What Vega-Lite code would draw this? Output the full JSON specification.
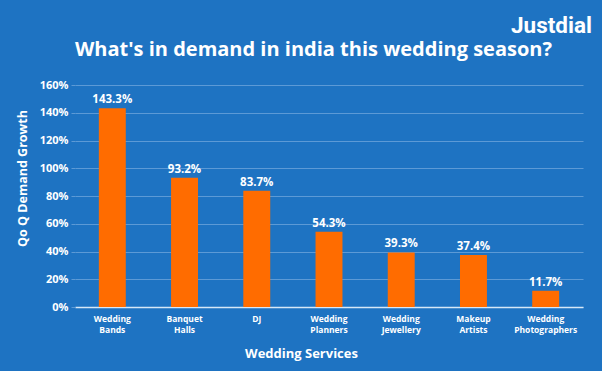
{
  "$schema": "https://vega.github.io/schema/vega-lite/v6.json",
  "width": 508,
  "height": 222,
  "autosize": {"type": "none"},
  "padding": {"left": 75, "top": 85, "right": 19, "bottom": 64},
  "background": "#1e73c2",
  "title": {
    "text": "Justdial",
    "anchor": "end",
    "frame": "group",
    "dx": 9,
    "offset": 2,
    "font": "Roboto",
    "fontSize": 22.5,
    "fontWeight": "bold",
    "color": "#ffffff"
  },
  "data": {
    "values": [
      {"service": "Wedding Bands", "growth": 1.433},
      {"service": "Banquet Halls", "growth": 0.932},
      {"service": "DJ", "growth": 0.837},
      {"service": "Wedding Planners", "growth": 0.543},
      {"service": "Wedding Jewellery", "growth": 0.393},
      {"service": "Makeup Artists", "growth": 0.374},
      {"service": "Wedding Photographers", "growth": 0.117}
    ]
  },
  "config": {
    "view": {"stroke": null},
    "font": "Open Sans"
  },
  "encoding": {
    "y": {
      "field": "growth",
      "type": "quantitative",
      "scale": {"domain": [0, 1.6], "nice": false},
      "axis": {
        "title": "Qo Q Demand Growth",
        "format": ".0%",
        "values": [0, 0.2, 0.4, 0.6, 0.8, 1.0, 1.2, 1.4, 1.6],
        "domain": false,
        "grid": true,
        "gridColor": "#5c9ad6",
        "gridWidth": 1,
        "tickColor": "#5c9ad6",
        "tickSize": 4,
        "labelPadding": 3,
        "labelColor": "#ffffff",
        "labelFont": "Open Sans",
        "labelFontSize": 11,
        "labelFontWeight": "bold",
        "titleColor": "#ffffff",
        "titleFont": "Open Sans",
        "titleFontSize": 12.5,
        "titleFontWeight": "bold",
        "titlePadding": 10,
        "titleY": 93,
        "titleAlign": "center"
      }
    }
  },
  "layer": [
    {
      "mark": {"type": "bar", "color": "#ff6c00"},
      "encoding": {
        "x": {
          "field": "service",
          "type": "nominal",
          "sort": null,
          "scale": {"paddingInner": 0.627, "paddingOuter": 0.33},
          "axis": {
            "title": "Wedding Services",
            "labelAngle": 0,
            "labelExpr": "split(datum.label, ' ')",
            "labelColor": "#ffffff",
            "labelFont": "Open Sans",
            "labelFontSize": 8.5,
            "labelFontWeight": "bold",
            "labelLineHeight": 11,
            "labelPadding": 7,
            "ticks": false,
            "domainColor": "#d6e8f7",
            "domainWidth": 1.5,
            "titleColor": "#ffffff",
            "titleFont": "Open Sans",
            "titleFontSize": 13,
            "titleFontWeight": "bold",
            "titlePadding": 14,
            "titleX": 226,
            "titleAlign": "center"
          }
        }
      }
    },
    {
      "mark": {"type": "text", "color": "#ffffff", "font": "Open Sans", "fontSize": 11.5, "fontWeight": "bold", "baseline": "bottom", "dy": -3},
      "encoding": {
        "x": {
          "field": "service",
          "type": "nominal",
          "sort": null,
          "axis": {
            "orient": "top",
            "title": "What's in demand in india this wedding season?",
            "labels": false,
            "ticks": false,
            "domain": false,
            "grid": false,
            "titleColor": "#ffffff",
            "titleFont": "Open Sans",
            "titleFontSize": 20,
            "titleFontWeight": "bold",
            "titleAlign": "center",
            "titleBaseline": "alphabetic",
            "titleX": 238,
            "titleY": -30
          }
        },
        "text": {"field": "growth", "type": "quantitative", "format": ".1%"}
      }
    }
  ],
  "resolve": {"axis": {"x": "independent"}}
}
